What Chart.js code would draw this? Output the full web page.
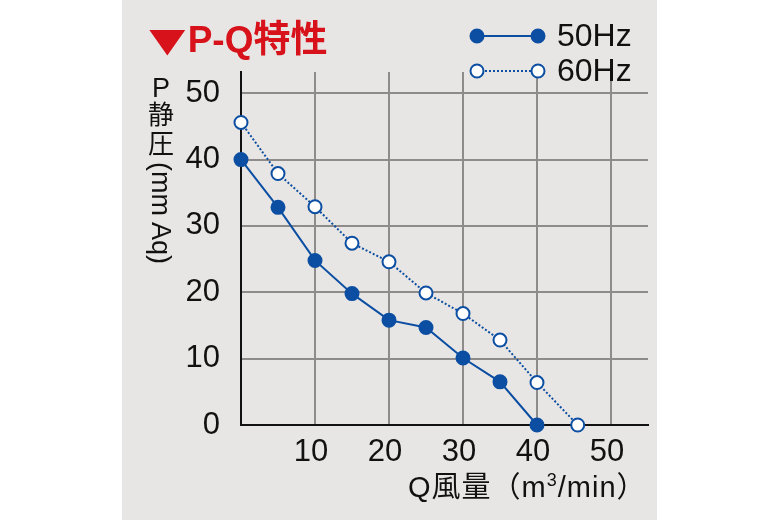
<!DOCTYPE html>
<html lang="ja">
<head>
<meta charset="utf-8">
<script src="https://cdn.jsdelivr.net/npm/chart.js@4.4.1/dist/chart.umd.min.js"></script>
<style>
  body { margin: 0; background: #fff; }
  #wrap { position: relative; width: 780px; height: 520px; overflow: hidden; }
  #panel { position: absolute; left: 122px; top: 0; width: 535px; height: 520px; background: #e8e6e4; }
  canvas { position: absolute; left: 0; top: 0; }
  .txt { position: absolute; font-family: "Liberation Sans", "Noto Sans CJK JP", sans-serif; color: #111; white-space: nowrap; line-height: 1; }
  #title { left: 150px; top: 21px; font-size: 37px; font-weight: bold; color: #d7121b; }
  #title .tri { display: inline-block; font-size: 35px; transform: scale(1.75, 1.25); margin-right: 3px; }
  .ych { left: 148px; width: 26px; text-align: center; font-size: 26px; }
  #yP { top: 75px; font-size: 27px; }
  #yS { top: 102px; }
  #yA { top: 131px; }
  #yUnit { left: 146px; top: 162px; font-size: 27px; writing-mode: vertical-rl; line-height: 30px; }
  #xtitle { left: 408px; top: 473px; font-size: 29px; letter-spacing: 1px; }
  #xtitle .sup { font-size: 18px; position: relative; top: -11px; }
</style>
</head>
<body>
<div id="wrap">
  <div id="panel"></div>
  <canvas id="pqChart" width="780" height="520"></canvas>
  <div class="txt" id="title"><span class="tri">▼</span>P-Q特性</div>
  <div class="txt ych" id="yP">P</div>
  <div class="txt ych" id="yS">静</div>
  <div class="txt ych" id="yA">圧</div>
  <div class="txt" id="yUnit">(mm Aq)</div>
  <div class="txt" id="xtitle">Q風量（m<span class="sup">3</span>/min）</div>
</div>
<script>
// Data (Q in m3/min, P in mm Aq)
const seriesLabels = ["50Hz", "60Hz"];
const q50 = [0, 5, 10, 15, 20, 25, 30, 35, 40];
const p50 = [40, 32.8, 24.8, 19.8, 15.8, 14.7, 10.1, 6.5, 0];
const q60 = [0, 5, 10, 15, 20, 25, 30, 35, 40, 45.5];
const p60 = [45.6, 37.9, 32.9, 27.4, 24.6, 19.9, 16.8, 12.8, 6.4, 0];
const xTickLabels = [10, 20, 30, 40, 50];
const yTickLabels = [0, 10, 20, 30, 40, 50];

const blue = "#0b4ea2";
const gridGray = "#8e8c8a";
const fontFamily = '"Liberation Sans", "Noto Sans CJK JP", sans-serif';

function toPoints(xs, ys) {
    return xs.map((x, i) => ({ x: x, y: ys[i] }));
}

// legend: line with a marker at each end, then the label
const pairLegend = {
    id: "pairLegend",
    afterDraw(chart) {
        const ctx = chart.ctx;
        const rows = [36, 71];
        chart.data.datasets.forEach((ds, i) => {
            const y = rows[i];
            ctx.save();
            ctx.strokeStyle = ds.borderColor;
            ctx.lineWidth = ds.borderWidth;
            ctx.setLineDash(ds.borderDash || []);
            ctx.beginPath();
            ctx.moveTo(477, y);
            ctx.lineTo(538, y);
            ctx.stroke();
            ctx.setLineDash([]);
            [477, 538].forEach(x => {
                ctx.beginPath();
                ctx.arc(x, y, ds.pointRadius, 0, Math.PI * 2);
                ctx.fillStyle = ds.pointBackgroundColor;
                ctx.fill();
                ctx.lineWidth = ds.pointBorderWidth;
                ctx.strokeStyle = ds.pointBorderColor;
                ctx.stroke();
            });
            ctx.fillStyle = "#111";
            ctx.font = "32px " + fontFamily;
            ctx.textAlign = "left";
            ctx.textBaseline = "middle";
            ctx.fillText(ds.label, 557, y + 1);
            ctx.restore();
        });
    }
};

const ctx = document.getElementById("pqChart").getContext("2d");
new Chart(ctx, {
    type: "line",
    data: {
        datasets: [
            {
                label: seriesLabels[0],
                data: toPoints(q50, p50),
                borderColor: blue,
                borderWidth: 2,
                pointRadius: 6.5,
                pointBackgroundColor: blue,
                pointBorderColor: blue,
                pointBorderWidth: 2,
                tension: 0,
                clip: false
            },
            {
                label: seriesLabels[1],
                data: toPoints(q60, p60),
                borderColor: blue,
                borderWidth: 2,
                borderDash: [2, 2],
                pointRadius: 6.5,
                pointBackgroundColor: "#ffffff",
                pointBorderColor: blue,
                pointBorderWidth: 2,
                tension: 0,
                clip: false
            }
        ]
    },
    options: {
        responsive: false,
        animation: false,
        layout: { padding: { left: 181, right: 132, top: 72, bottom: 55 } },
        plugins: {
            legend: { display: false },
            tooltip: { enabled: false }
        },
        scales: {
            x: {
                type: "linear",
                min: 0,
                max: 55,
                afterFit: s => { s.height = 40; },
                afterBuildTicks: s => { s.ticks = [0].concat(xTickLabels).map(v => ({ value: v })); },
                grid: { color: gridGray, lineWidth: 2, drawTicks: false },
                border: { color: "#111", width: 2 },
                ticks: {
                    padding: 9,
                    labelOffset: -4,
                    color: "#111",
                    font: { family: fontFamily, size: 31 },
                    callback: v => (xTickLabels.includes(v) ? String(v) : "")
                }
            },
            y: {
                type: "linear",
                min: 0,
                max: 53.2,
                afterFit: s => { s.width = 60; },
                afterBuildTicks: s => { s.ticks = yTickLabels.map(v => ({ value: v })); },
                grid: { color: gridGray, lineWidth: 2, drawTicks: false },
                border: { color: "#111", width: 2 },
                ticks: {
                    padding: 21,
                    color: "#111",
                    font: { family: fontFamily, size: 31 },
                    callback: v => String(v)
                }
            }
        }
    },
    plugins: [pairLegend]
});
</script>
</body>
</html>
